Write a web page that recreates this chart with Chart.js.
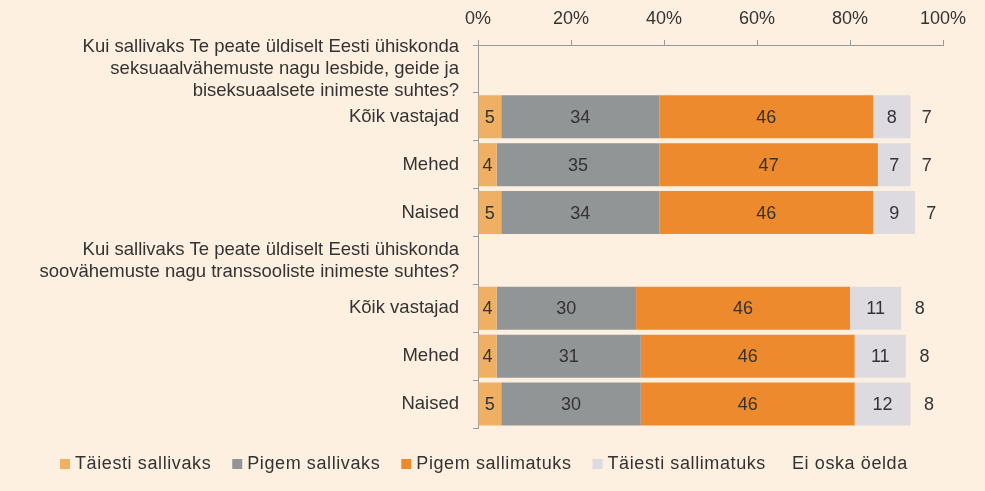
<!DOCTYPE html>
<html>
<head>
<meta charset="utf-8">
<script src="https://cdn.jsdelivr.net/npm/chart.js@4"></script>
<style>
  body { margin: 0; background: #fdf0e1; }
  #wrap { width: 985px; height: 491px; }
</style>
</head>
<body>
<div id="wrap"><canvas id="chart" width="985" height="491"></canvas></div>
<script>
const categories = [
    ["Kui sallivaks Te peate üldiselt Eesti ühiskonda", "seksuaalvähemuste nagu lesbide, geide ja", "biseksuaalsete inimeste suhtes?"],
    "Kõik vastajad", "Mehed", "Naised",
    ["Kui sallivaks Te peate üldiselt Eesti ühiskonda", "soovähemuste nagu transsooliste inimeste suhtes?"],
    "Kõik vastajad", "Mehed", "Naised"
];
const seriesNames = ["Täiesti sallivaks", "Pigem sallivaks", "Pigem sallimatuks", "Täiesti sallimatuks", "Ei oska öelda"];
const taiestiSallivaks = [null, 5, 4, 5, null, 4, 4, 5];
const pigemSallivaks = [null, 34, 35, 34, null, 30, 31, 30];
const pigemSallimatuks = [null, 46, 47, 46, null, 46, 46, 46];
const taiestiSallimatuks = [null, 8, 7, 9, null, 11, 11, 12];
const eiOskaOelda = [null, 7, 7, 7, null, 8, 8, 8];
const xTicks = [0, 20, 40, 60, 80, 100];

const colors = ["#f0b064", "#929596", "#ee8a2e", "#dddbe0", "rgba(0,0,0,0)"];
const textColor = "#333333";
const font = "'Liberation Sans', Arial, sans-serif";

const allSeries = [taiestiSallivaks, pigemSallivaks, pigemSallimatuks, taiestiSallimatuks, eiOskaOelda];

// draw the numbers in the middle of every segment
const segmentLabels = {
    id: "segmentLabels",
    afterDatasetsDraw(chart) {
        const ctx = chart.ctx;
        ctx.save();
        ctx.font = "18px " + font;
        ctx.fillStyle = textColor;
        ctx.textAlign = "center";
        ctx.textBaseline = "middle";
        chart.data.datasets.forEach((ds, i) => {
            chart.getDatasetMeta(i).data.forEach((bar, j) => {
                const v = ds.data[j];
                if (v == null) return;
                ctx.fillText(String(v), (bar.x + bar.base) / 2, bar.y + 1);
            });
        });
        ctx.restore();
    }
};

// legend at the bottom, the last series has no colour box
const bottomLegend = {
    id: "bottomLegend",
    afterDraw(chart) {
        const ctx = chart.ctx;
        let x = 60;
        const y = 464;
        ctx.save();
        ctx.font = "18px " + font;
        ctx.letterSpacing = "0.6px";
        ctx.textBaseline = "middle";
        chart.data.datasets.forEach((ds, i) => {
            if (i < 4) {
                ctx.fillStyle = colors[i];
                ctx.fillRect(x, y - 5, 10, 10);
                x += 15;
            } else {
                x += 5;
            }
            ctx.fillStyle = textColor;
            ctx.fillText(ds.label, x, y);
            x += ctx.measureText(ds.label).width + 21;
        });
        ctx.restore();
    }
};

new Chart(document.getElementById("chart"), {
    type: "bar",
    data: {
        labels: categories,
        datasets: allSeries.map((d, i) => ({
            label: seriesNames[i],
            data: d,
            backgroundColor: colors[i],
            borderWidth: 0,
            barPercentage: 0.9,
            categoryPercentage: 1
        }))
    },
    options: {
        indexAxis: "y",
        responsive: false,
        animation: false,
        layout: { padding: { top: 0, right: 42, bottom: 63, left: 0 } },
        plugins: {
            legend: { display: false },
            tooltip: { enabled: false }
        },
        scales: {
            x: {
                position: "top",
                stacked: true,
                min: 0,
                max: 100,
                afterBuildTicks: (scale) => { scale.ticks = xTicks.map(v => ({ value: v })); },
                afterFit: (scale) => { scale.height = 45; },
                border: { color: "#9a9a9a" },
                grid: { drawOnChartArea: false, tickLength: 5, color: "#9a9a9a" },
                ticks: {
                    padding: 10,
                    color: textColor,
                    font: { family: font, size: 18 },
                    callback: (v) => v + "%"
                }
            },
            y: {
                stacked: true,
                afterFit: (scale) => { scale.width = 478; },
                border: { color: "#9a9a9a" },
                grid: { drawOnChartArea: false, tickLength: 5, color: "#9a9a9a", offset: true },
                ticks: {
                    autoSkip: false,
                    padding: 14,
                    color: textColor,
                    font: { family: font, size: 18.5, lineHeight: 1.19 }
                }
            }
        }
    },
    plugins: [segmentLabels, bottomLegend]
});
</script>
</body>
</html>
